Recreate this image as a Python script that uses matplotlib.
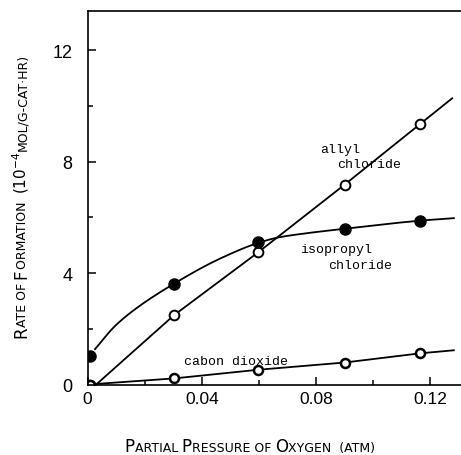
import matplotlib
matplotlib.use("Agg")
import matplotlib.pyplot as plt
import numpy as np
from matplotlib.ticker import MultipleLocator

# measured rates, 10^-4 mol / g-cat.hr
o2_pressure = [0.0008, 0.0303, 0.0597, 0.090, 0.1165]
allyl = [0.0, 2.49, 4.74, 7.17, 9.35]
isopropyl = [1.03, 3.62, 5.12, 5.59, 5.88]
co2 = [0.0, 0.22, 0.53, 0.79, 1.12]

# hand-drawn trend curves through the points
allyl_curve_x = [0.003, 0.0303, 0.0597, 0.090, 0.1165, 0.1277]
allyl_curve_y = [0.0, 2.49, 4.74, 7.17, 9.35, 10.27]
iso_curve_x = [0.0026, 0.0096, 0.0166, 0.0303, 0.0458, 0.0597, 0.0669, 0.0745, 0.090, 0.1165, 0.1283]
iso_curve_y = [1.27, 2.10, 2.70, 3.62, 4.49, 5.08, 5.28, 5.40, 5.59, 5.88, 5.97]
co2_curve_x = [0.0, 0.0303, 0.0597, 0.090, 0.1165, 0.1283]
co2_curve_y = [0.0, 0.22, 0.53, 0.79, 1.12, 1.23]

x_ticks = [0, 0.04, 0.08, 0.12]
x_tick_labels = ["0", "0.04", "0.08", "0.12"]
y_ticks = [0, 4, 8, 12]
y_tick_labels = ["0", "4", "8", "12"]

TICK_FONT = ["Liberation Sans", "DejaVu Sans"]
LABEL_FONT = ["DejaVu Sans"]
NOTE_FONT = ["Liberation Mono", "DejaVu Sans Mono"]


def smooth(xs, ys, n=200):
    """Monotone cubic (Fritsch-Carlson) curve through the knots."""
    x = np.asarray(xs, float)
    y = np.asarray(ys, float)
    h = np.diff(x)
    delta = np.diff(y) / h
    d = np.empty_like(x)
    d[0], d[-1] = delta[0], delta[-1]
    for k in range(1, len(x) - 1):
        if delta[k - 1] * delta[k] > 0:
            w1 = 2 * h[k] + h[k - 1]
            w2 = h[k] + 2 * h[k - 1]
            d[k] = (w1 + w2) / (w1 / delta[k - 1] + w2 / delta[k])
        else:
            d[k] = 0.0
    xx = np.linspace(x[0], x[-1], n)
    i = np.clip(np.searchsorted(x, xx) - 1, 0, len(h) - 1)
    t = (xx - x[i]) / h[i]
    h00 = 2 * t ** 3 - 3 * t ** 2 + 1
    h10 = t ** 3 - 2 * t ** 2 + t
    h01 = -2 * t ** 3 + 3 * t ** 2
    h11 = t ** 3 - t ** 2
    yy = h00 * y[i] + h10 * h[i] * d[i] + h01 * y[i + 1] + h11 * h[i] * d[i + 1]
    return xx, yy


def smallcaps(fig, x, y, parts, rotation=0):
    """Lay out (text, size) pieces end to end, centred on (x, y) in figure coords."""
    renderer = fig.canvas.get_renderer()
    W, H = fig.get_size_inches() * fig.dpi
    texts, lengths = [], []
    for s, size in parts:
        t = fig.text(x, y, s, fontsize=size, rotation=rotation, rotation_mode="anchor",
                     ha="left", va="baseline", family=LABEL_FONT)
        bb = t.get_window_extent(renderer)
        texts.append(t)
        lengths.append(bb.width if rotation == 0 else bb.height)
    pos = -sum(lengths) / 2
    for t, n in zip(texts, lengths):
        if rotation == 0:
            t.set_x(x + pos / W)
        else:
            t.set_y(y + pos / H)
        pos += n


fig = plt.figure(figsize=(4.61, 4.56), dpi=100)
ax = fig.add_axes([0.190, 0.1545, 0.810, 0.819])

ax.plot(allyl_curve_x, allyl_curve_y, color="black", lw=1.3)
ax.plot(*smooth(iso_curve_x, iso_curve_y), color="black", lw=1.3)
ax.plot(co2_curve_x, co2_curve_y, color="black", lw=1.3)

ax.plot(o2_pressure, allyl, "o", ms=7, mfc="white", mec="black", mew=1.4)
ax.plot(o2_pressure, isopropyl, "o", ms=8, mfc="black", mec="black")
ax.plot(o2_pressure, co2, "o", ms=6.5, mfc="white", mec="black", mew=1.8)

ax.text(0.0815, 8.35, "allyl", family=NOTE_FONT, fontsize=9.5, ha="left", va="baseline")
ax.text(0.0875, 7.81, "chloride", family=NOTE_FONT, fontsize=9.5, ha="left", va="baseline")
ax.text(0.0743, 4.74, "isopropyl", family=NOTE_FONT, fontsize=9.5, ha="left", va="baseline")
ax.text(0.0844, 4.19, "chloride", family=NOTE_FONT, fontsize=9.5, ha="left", va="baseline")
ax.text(0.0339, 0.73, "cabon dioxide", family=NOTE_FONT, fontsize=9.5, ha="left", va="baseline")

ax.set_xlim(0, 0.1308)
ax.set_ylim(0, 13.4)
ax.set_xticks(x_ticks, x_tick_labels, family=TICK_FONT, fontsize=12.5)
ax.set_yticks(y_ticks, y_tick_labels, family=TICK_FONT, fontsize=13)
ax.xaxis.set_minor_locator(MultipleLocator(0.02))
ax.yaxis.set_minor_locator(MultipleLocator(2))
ax.tick_params(which="both", direction="in", top=False, right=False, width=1.1)
ax.tick_params(which="major", length=6)
ax.tick_params(which="minor", length=3.5)
ax.tick_params(axis="x", pad=4.5)
ax.tick_params(axis="y", pad=11)
ax.spines["right"].set_visible(False)
for side in ("left", "bottom", "top"):
    ax.spines[side].set_linewidth(1.2)

smallcaps(fig, 0.542, 0.009,
          [("P", 12), ("ARTIAL ", 9), ("P", 12), ("RESSURE OF ", 9), ("O", 12), ("XYGEN  (ATM)", 9)])
smallcaps(fig, 26 / 461, 0.570,
          [("R", 12), ("ATE OF ", 9), ("F", 12), ("ORMATION  ", 9), ("(10$^{-4}$", 11),
           ("MOL/G-CAT\u00b7HR)", 9)], rotation=90)

fig.savefig("out.png", dpi=100)
